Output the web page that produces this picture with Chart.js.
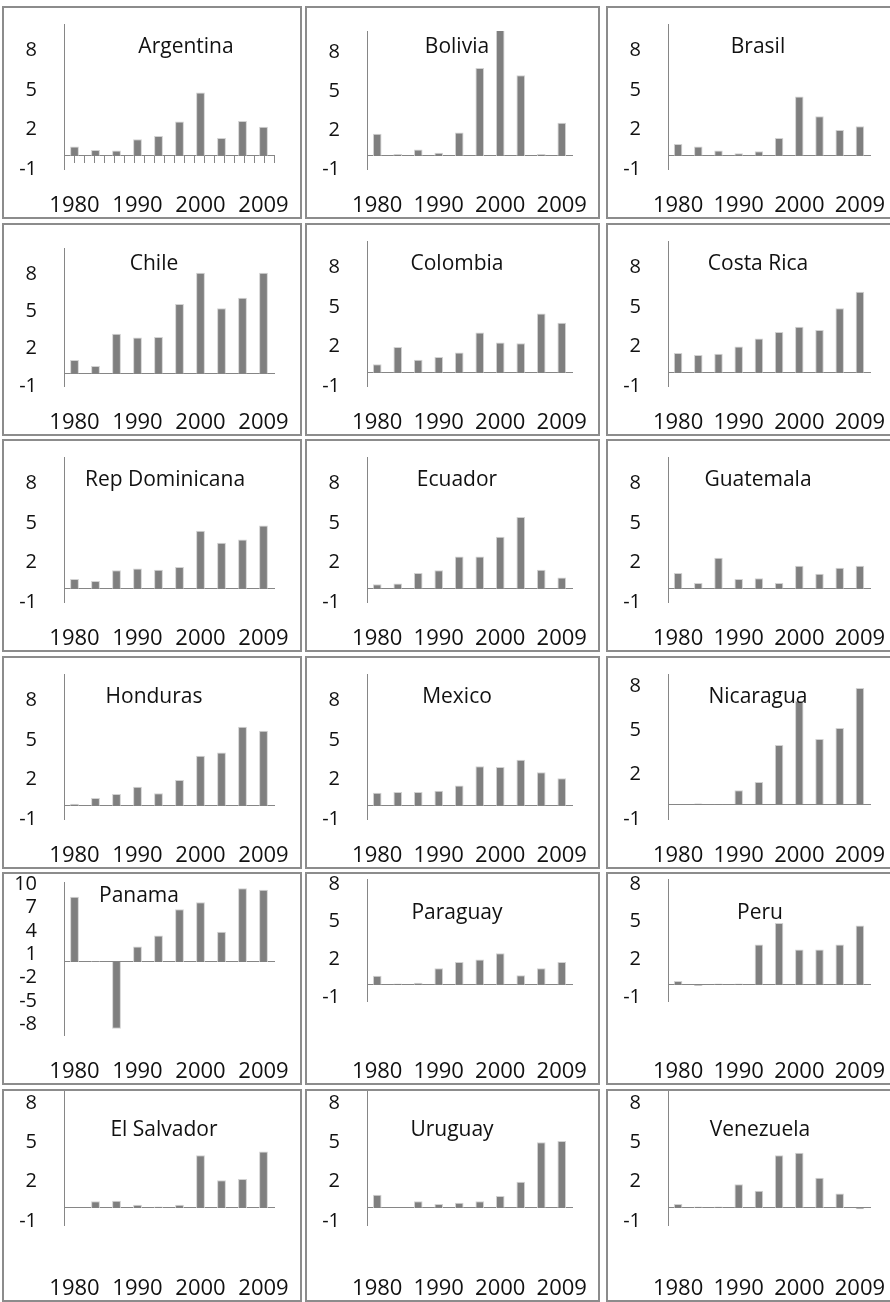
<!DOCTYPE html>
<html>
<head>
<meta charset="utf-8">
<script src="https://cdn.jsdelivr.net/npm/chart.js@4.4.1/dist/chart.umd.min.js"></script>
<style>
  html, body { margin: 0; padding: 0; background: #fff; overflow: hidden; }
  #grid { position: relative; width: 890px; height: 1302px; overflow: hidden; }
  .panel { position: absolute; box-sizing: border-box; border: 2px solid #8c8c8c; background: #fff; }
  .panel canvas { display: block; }
</style>
</head>
<body>
<div id="grid"></div>
<script>
/*
    DATOS
*/
const YEARS = ['1980', '', '', '1990', '', '', '2000', '', '', '2009'];
const COUNTRIES = ['Argentina', 'Bolivia', 'Brasil', 'Chile', 'Colombia', 'Costa Rica',
  'Rep Dominicana', 'Ecuador', 'Guatemala', 'Honduras', 'Mexico', 'Nicaragua',
  'Panama', 'Paraguay', 'Peru', 'El Salvador', 'Uruguay', 'Venezuela'];

const ARGENTINA = [0.7, 0.45, 0.4, 1.25, 1.5, 2.6, 4.8, 1.35, 2.65, 2.2];
const BOLIVIA = [1.7, 0.15, 0.5, 0.25, 1.8, 6.75, 9.9, 6.2, 0.15, 2.55];
const BRASIL = [0.9, 0.7, 0.4, 0.2, 0.35, 1.35, 4.5, 3.0, 1.95, 2.25];
const CHILE = [1.1, 0.6, 3.2, 2.9, 2.95, 5.6, 8.1, 5.25, 6.1, 8.1];
const COLOMBIA = [0.65, 1.95, 1.0, 1.2, 1.55, 3.05, 2.3, 2.25, 4.5, 3.8];
const COSTA_RICA = [1.5, 1.35, 1.45, 2.0, 2.6, 3.1, 3.5, 3.25, 4.9, 6.15];
const REP_DOMINICANA = [0.75, 0.6, 1.4, 1.55, 1.45, 1.65, 4.4, 3.5, 3.75, 4.8];
const ECUADOR = [0.35, 0.4, 1.2, 1.4, 2.45, 2.45, 3.95, 5.45, 1.45, 0.85];
const GUATEMALA = [1.2, 0.45, 2.35, 0.75, 0.8, 0.45, 1.75, 1.15, 1.6, 1.75];
const HONDURAS = [0.15, 0.6, 0.9, 1.45, 0.95, 1.95, 3.8, 4.05, 6.0, 5.7];
const MEXICO = [1.0, 1.05, 1.05, 1.15, 1.55, 3.0, 2.95, 3.5, 2.55, 2.1];
const NICARAGUA = [0, 0.05, 0.02, 0.95, 1.5, 4.0, 7.0, 4.4, 5.15, 7.85];
const PANAMA = [8.4, 0.1, -8.6, 2.0, 3.4, 6.8, 7.7, 3.9, 9.5, 9.3];
const PARAGUAY = [0.7, 0.1, 0.15, 1.3, 1.8, 2.0, 2.5, 0.75, 1.3, 1.8];
const PERU = [0.3, -0.1, 0.1, 0.1, 3.2, 4.9, 2.8, 2.8, 3.2, 4.7];
const EL_SALVADOR = [0, 0.5, 0.55, 0.25, 0.1, 0.25, 4.0, 2.1, 2.2, 4.3];
const URUGUAY = [1.0, 0, 0.5, 0.3, 0.4, 0.5, 0.9, 2.0, 5.0, 5.1];
const VENEZUELA = [0.3, 0.1, 0.1, 1.8, 1.3, 4.0, 4.2, 2.3, 1.1, -0.1];

const SERIES = [ARGENTINA, BOLIVIA, BRASIL, CHILE, COLOMBIA, COSTA_RICA,
  REP_DOMINICANA, ECUADOR, GUATEMALA, HONDURAS, MEXICO, NICARAGUA,
  PANAMA, PARAGUAY, PERU, EL_SALVADOR, URUGUAY, VENEZUELA];

const Y_TICKS = [-1, 2, 5, 8];
const Y_TICKS_PANAMA = [-8, -5, -2, 1, 4, 7, 10];

/*
    ESTILO Y GEOMETRIA
*/
const FONT = "'Open Sans', 'Noto Sans', sans-serif";
const TEXT = '#111111';
const AXIS = '#868686';
const BAR_FILL = '#7f7f7f';
const BAR_EDGE = '#d2d2d2';

const COL_LEFT = [2, 305, 606];
const COL_WIDTH = [300, 295, 292];
const ROW_TOP = 6;
const ROW_STEP = 216.6;
const PANEL_H = 213;

// lo comun: eje y de -1 a 10, area del grafico desde 16px, eje x de 48px
const DEFAULT_LAYOUT = { range: [-1, 10], top: 16, axisH: 48, titleDx: 90, titleDy: 39 };
const LAYOUT = {
  Argentina: { titleDx: 122 },
  Bolivia: { range: [-1, 9.6], top: 23 },
  Chile: { range: [-1, 10.1], top: 23 },
  'Rep Dominicana': { titleDx: 101 },
  Nicaragua: { range: [-1, 8.8] },
  Panama: { range: [-9.4, 10.3], top: 8, titleDx: 75, titleDy: 22 },
  Paraguay: { range: [-1.3, 8.4], top: 5, axisH: 82 },
  Peru: { range: [-1.3, 8.4], top: 5, axisH: 82, titleDx: 92 },
  'El Salvador': { range: [-1.3, 8.9], top: 0, axisH: 75, titleDx: 100 },
  Uruguay: { range: [-1.3, 8.9], top: 0, axisH: 75, titleDx: 85 },
  Venezuela: { range: [-1.3, 8.9], top: 0, axisH: 75, titleDx: 92 }
};

Chart.defaults.font.family = FONT;
Chart.defaults.color = TEXT;

const panelTitle = {
  id: 'panelTitle',
  afterDatasetsDraw(chart, args, opts) {
    const { ctx, chartArea } = chart;
    ctx.save();
    ctx.font = `${opts.size}px ${FONT}`;
    ctx.fillStyle = TEXT;
    ctx.textAlign = 'center';
    ctx.textBaseline = 'middle';
    ctx.fillText(opts.text, chartArea.left + opts.dx, opts.dy);
    ctx.restore();
  }
};

const drawPanel = (canvas, name, data) => {
  const lay = Object.assign({}, DEFAULT_LAYOUT, LAYOUT[name]);
  const yTicks = name === 'Panama' ? Y_TICKS_PANAMA : Y_TICKS;
  const withTicks = name === 'Argentina';
  return new Chart(canvas, {
    type: 'bar',
    data: {
      labels: YEARS,
      datasets: [{
        data,
        xAxisID: 'x',
        yAxisID: 'y',
        backgroundColor: BAR_FILL,
        borderColor: BAR_EDGE,
        borderWidth: 1,
        barPercentage: 0.42,
        categoryPercentage: 1
      }]
    },
    options: {
      responsive: false,
      animation: false,
      events: [],
      layout: { padding: { top: lay.top, right: 26, left: 0, bottom: 0 } },
      plugins: {
        legend: { display: false },
        tooltip: { enabled: false },
        panelTitle: { text: name, dx: lay.titleDx, dy: lay.titleDy, size: 21 }
      },
      scales: {
        x: {
          type: 'category',
          grid: { display: false, drawTicks: false },
          border: { display: false },
          ticks: { autoSkip: false, maxRotation: 0, minRotation: 0, padding: lay.axisH - 24, font: { size: 22 } },
          afterFit: (s) => {
            s.height = lay.axisH;
            s.paddingLeft = 0;
            s.paddingRight = 0;
          }
        },
        zero: {
          type: 'linear',
          axis: 'x',
          position: { y: 0 },
          min: 0,
          max: 10,
          grid: { display: withTicks, drawOnChartArea: false, drawTicks: true, tickLength: 7, color: AXIS },
          border: { display: true, color: AXIS, width: 1 },
          ticks: { display: false, autoSkip: false, stepSize: 0.5 }
        },
        y: {
          min: lay.range[0],
          max: lay.range[1],
          afterBuildTicks: (s) => { s.ticks = yTicks.map((v) => ({ value: v })); },
          grid: { display: false, drawTicks: false },
          border: { display: true, color: AXIS, width: 1 },
          ticks: { autoSkip: false, padding: 27, font: { size: 20 } },
          afterFit: (s) => {
            s.width = 60;
            // el padding de las etiquetas no debe empujar el area del grafico
            s.paddingTop = 0;
            s.paddingBottom = 0;
          }
        }
      }
    },
    plugins: [panelTitle]
  });
};

const grid = document.getElementById('grid');
COUNTRIES.forEach((name, i) => {
  const row = Math.floor(i / 3);
  const col = i % 3;
  const panel = document.createElement('div');
  panel.className = 'panel';
  panel.style.left = COL_LEFT[col] + 'px';
  panel.style.top = Math.round(ROW_TOP + row * ROW_STEP) + 'px';
  panel.style.width = COL_WIDTH[col] + 'px';
  panel.style.height = PANEL_H + 'px';
  const canvas = document.createElement('canvas');
  canvas.width = COL_WIDTH[col] - 4;
  canvas.height = PANEL_H - 4;
  panel.appendChild(canvas);
  grid.appendChild(panel);
  drawPanel(canvas, name, SERIES[i]);
});
</script>
</body>
</html>
